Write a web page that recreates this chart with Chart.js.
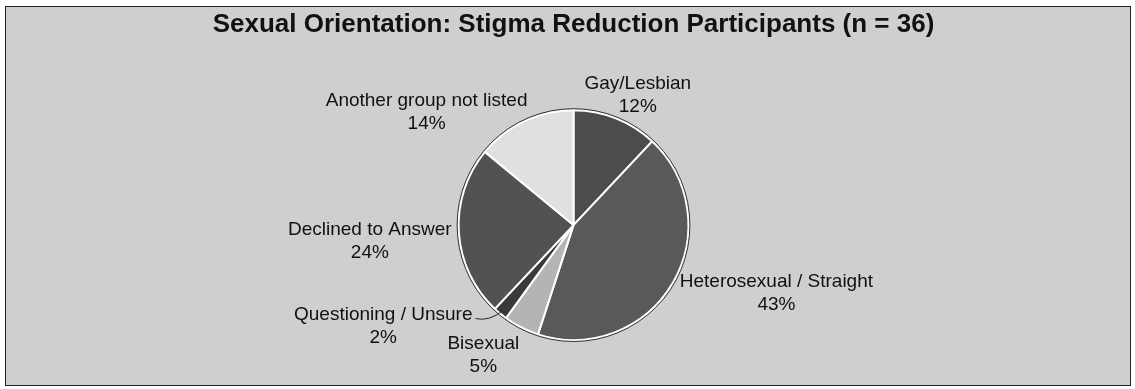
<!DOCTYPE html>
<html>
<head>
<meta charset="utf-8">
<script src="https://cdn.jsdelivr.net/npm/chart.js@4"></script>
<style>
  html, body { margin: 0; padding: 0; background: #fff; }
  .frame {
    position: absolute; left: 5px; top: 6px;
    width: 1124px; height: 378px;
    border: 1px solid #222;
    background: #cfcfcf;
  }
  canvas { display: block; }
</style>
</head>
<body>
<div class="frame"><canvas id="pie" width="1124" height="378"></canvas></div>
<script>
// slices, clockwise from 12 o'clock
const categories = ['Gay/Lesbian', 'Heterosexual / Straight', 'Bisexual', 'Questioning / Unsure', 'Declined to Answer', 'Another group not listed'];
const percents = [12, 43, 5, 2, 24, 14];
const sliceColors = ['#4c4c4c', '#595959', '#b4b4b4', '#3a3a3a', '#525252', '#e0e0e0'];
// label nudge from the slice's outer midpoint
const labelNudge = [[22, -23], [104, 10], [-38, 28], [-117, 13], [-89, 9], [-98, -9]];

const FONT = '"Liberation Sans", Arial, sans-serif';

const pieLabels = {
  id: 'pieLabels',
  afterDatasetsDraw(chart) {
    const ctx = chart.ctx;
    const arcs = chart.getDatasetMeta(0).data;
    ctx.save();

    // thin outline round the whole pie
    const a0 = arcs[0].getProps(['x', 'y', 'outerRadius']);
    ctx.strokeStyle = '#333';
    ctx.lineWidth = 1;
    ctx.beginPath();
    ctx.arc(a0.x, a0.y, a0.outerRadius + 1.5, 0, Math.PI * 2);
    ctx.stroke();

    ctx.font = '19px ' + FONT;
    ctx.fillStyle = '#111';
    ctx.textAlign = 'center';
    ctx.textBaseline = 'middle';
    arcs.forEach((arc, i) => {
      const p = arc.getProps(['x', 'y', 'startAngle', 'endAngle', 'outerRadius']);
      const mid = (p.startAngle + p.endAngle) / 2;
      const ox = p.x + Math.cos(mid) * p.outerRadius;
      const oy = p.y + Math.sin(mid) * p.outerRadius;
      const lx = ox + labelNudge[i][0];
      const ly = oy + labelNudge[i][1];
      ctx.fillText(categories[i], lx, ly - 11.5);
      ctx.fillText(percents[i] + '%', lx, ly + 11.5);
      if (i === 3) {
        // leader line for the thin slice
        const w = ctx.measureText(categories[i]).width;
        const inx = p.x + Math.cos(mid) * (p.outerRadius - 4);
        const iny = p.y + Math.sin(mid) * (p.outerRadius - 4);
        const sx = lx + w / 2 + 3, sy = ly - 8;
        ctx.strokeStyle = '#222';
        ctx.lineWidth = 1;
        ctx.beginPath();
        ctx.moveTo(sx, sy);
        ctx.quadraticCurveTo(sx + 14, sy + 3, inx, iny);
        ctx.stroke();
      }
    });
    ctx.restore();
  }
};

new Chart(document.getElementById('pie'), {
  type: 'pie',
  data: {
    labels: categories,
    datasets: [{
      data: percents,
      backgroundColor: sliceColors,
      borderColor: '#ffffff',
      borderWidth: 2
    }]
  },
  options: {
    responsive: false,
    animation: false,
    layout: { padding: { top: 0, bottom: 44, left: 11 } },
    plugins: {
      legend: { display: false },
      tooltip: { enabled: false },
      title: {
        display: true,
        text: 'Sexual Orientation: Stigma Reduction Participants (n = 36)',
        color: '#111',
        font: { family: FONT, size: 26, weight: 'bold' },
        padding: { top: 2, bottom: 69 }
      }
    }
  },
  plugins: [pieLabels]
});
</script>
</body>
</html>
